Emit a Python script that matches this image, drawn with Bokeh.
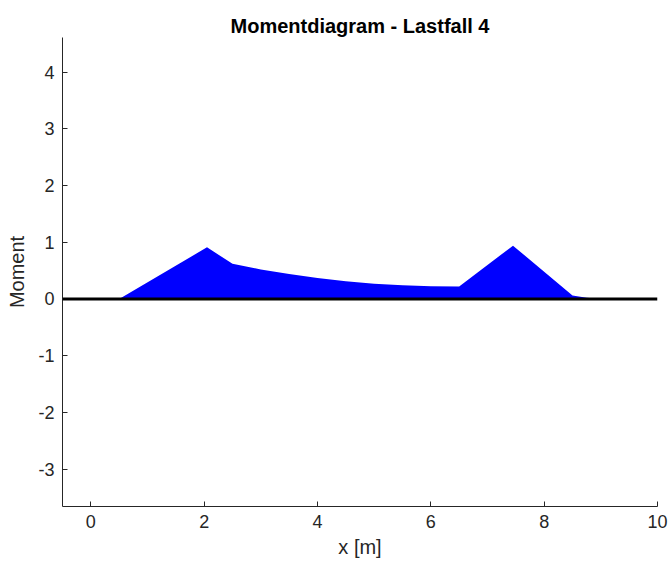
from bokeh.plotting import figure
from bokeh.models import Range1d, Span
from bokeh.embed import file_html
from bokeh.resources import INLINE

# Moment diagram data (x in m, moment)
x_pos = [0.5, 2.05, 2.5, 3.0, 3.5, 4.0, 4.5, 5.0, 5.5, 6.0, 6.5, 7.45, 8.5, 8.75, 9.0]
moment = [0.0, 0.91, 0.62, 0.52, 0.44, 0.37, 0.31, 0.27, 0.24, 0.225, 0.22, 0.94, 0.06, 0.02, 0.0]

x_ticks = [0, 2, 4, 6, 8, 10]
y_ticks = [-3, -2, -1, 0, 1, 2, 3, 4]
y_tick_labels = ["-3", "-2", "-1", "0", "1", "2", "3", "4"]

FONT = "Liberation Sans"
AX = "#262626"

p = figure(width=670, height=565, output_backend="svg", toolbar_location=None,
           x_range=Range1d(-0.5, 10), y_range=Range1d(-3.66, 4.61),
           min_border_left=62, min_border_right=13, min_border_top=37, min_border_bottom=59,
           title="Momentdiagram - Lastfall 4")

p.varea(x=x_pos, y1=[0] * len(x_pos), y2=moment, fill_color="#0000FF")
p.add_layout(Span(location=0, dimension="width", line_color="black", line_width=3))

p.outline_line_color = None
p.grid.visible = False
p.background_fill_color = "white"
p.border_fill_color = "white"

p.title.align = "center"
p.title.text_font = FONT
p.title.text_font_size = "20px"
p.title.text_font_style = "bold"
p.title.text_color = "black"
p.title.standoff = 2

p.xaxis.ticker = x_ticks
p.yaxis.ticker = y_ticks
p.yaxis.major_label_overrides = {t: s for t, s in zip(y_ticks, y_tick_labels)}
p.xaxis.axis_label = "x [m]"
p.yaxis.axis_label = "Moment"

for ax in (p.xaxis[0], p.yaxis[0]):
    ax.major_tick_in = 5
    ax.major_tick_out = 0
    ax.minor_tick_line_color = None
    ax.axis_line_color = AX
    ax.major_tick_line_color = AX
    ax.major_label_text_font = FONT
    ax.major_label_text_font_size = "18px"
    ax.major_label_text_color = AX
    ax.axis_label_text_font = FONT
    ax.axis_label_text_font_size = "20px"
    ax.axis_label_text_font_style = "normal"
    ax.axis_label_text_color = AX

p.xaxis.major_label_standoff = 8
p.yaxis.major_label_standoff = 8
p.xaxis.axis_label_standoff = 5
p.yaxis.axis_label_standoff = 7

open("out.html", "w").write(file_html(p, INLINE))
